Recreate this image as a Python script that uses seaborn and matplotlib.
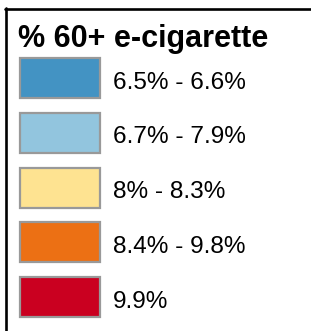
import matplotlib
matplotlib.use("Agg")
import matplotlib.pyplot as plt
from matplotlib.lines import Line2D
import seaborn as sns
import pandas as pd

# =========================
# LEGEND DATA
# =========================

title = "% 60+ e-cigarette"
bins = ["6.5% - 6.6%", "6.7% - 7.9%", "8% - 8.3%", "8.4% - 9.8%", "9.9%"]
colors = ["#4393c3", "#92c5de", "#fee391", "#ec7014", "#ca0020"]
swatch = [1, 1, 1, 1, 1]

sns.set_style("white")
plt.rcParams["font.family"] = ["Liberation Sans", "DejaVu Sans"]

W, H = 311, 331
fig = plt.figure(figsize=(W / 100, H / 100), dpi=100)

# axes spans the full width; swatch 0..1 covers pixels 20..100
ax = fig.add_axes([0, 6.5 / H, 1, 273.75 / H])

df = pd.DataFrame({"bin": bins, "val": swatch})
sns.barplot(data=df, x="val", y="bin", hue="bin", palette=colors,
            orient="h", width=0.73, saturation=1, edgecolor="#999999",
            linewidth=1.6, legend=False, ax=ax)

ax.set_xlim(-20 / 80, 291 / 80)
ax.set_ylim(len(bins) - 0.5, -0.5)
ax.axis("off")

for i, label in enumerate(bins):
    ax.text(93 / 80, i + 0.19, label, fontsize=17.6, va="baseline",
            ha="left", color="black")

fig.text(18 / W, 1 - 47 / H, title, fontsize=22, fontweight="bold",
         va="baseline", ha="left", color="black")

# frame: top and left edges only
fig.add_artist(Line2D([5 / W, 1], [1 - 8.5 / H] * 2, color="black",
                      linewidth=1.9, transform=fig.transFigure))
fig.add_artist(Line2D([6.2 / W] * 2, [1 - 7.5 / H, 0], color="black",
                      linewidth=1.9, transform=fig.transFigure))

fig.savefig("out.png", dpi=100)
